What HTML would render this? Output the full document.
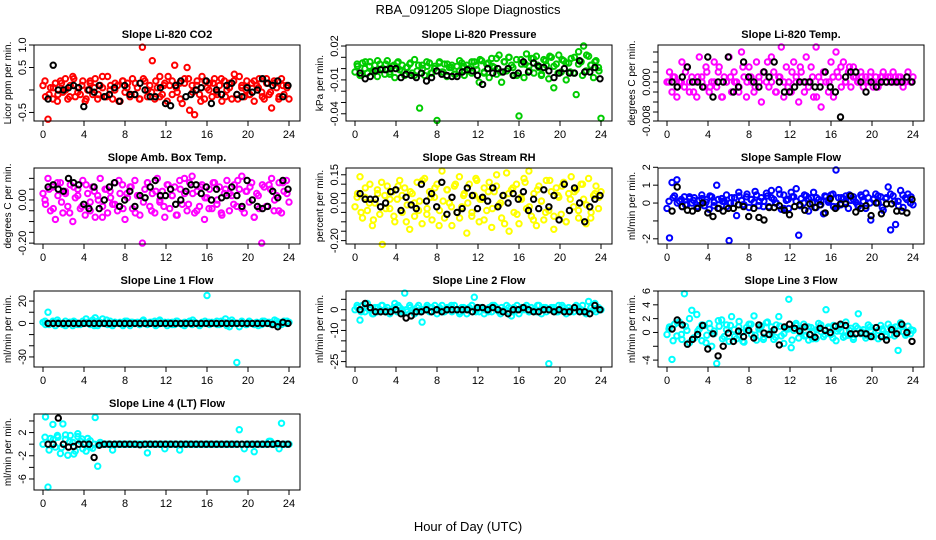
<!DOCTYPE html>
<html><head><meta charset="utf-8"><style>
html,body{margin:0;padding:0;background:#fff;}
svg{display:block;font-family:"Liberation Sans",sans-serif;}
</style></head><body>
<svg id="chart" width="936" height="540" viewBox="0 0 936 540" xmlns="http://www.w3.org/2000/svg">
<rect width="936" height="540" fill="#fff"/>
<text x="468" y="14" text-anchor="middle" font-size="13">RBA_091205  Slope Diagnostics</text>
<text x="468" y="531" text-anchor="middle" font-size="13">Hour of Day (UTC)</text>
</svg>
<script>
const xTicks = [0,4,8,12,16,20,24];
const co2Vals = [0.1,-0.15,-0.65,0.05,-0.2,0.15,-0.1,0.2,-0.05,0.25,-0.2,0.1,0.3,-0.15,0.05,-0.1,0.2,-0.25,0.0,0.15,-0.1,0.25,-0.2,0.1,0.05,-0.15,0.3,0.0,-0.2,0.15,0.1,-0.25,0.2,-0.05,0.15,-0.15,0.25,-0.1,0.05,-0.2,0.95,0.2,-0.15,0.1,0.65,-0.2,0.05,0.3,-0.1,0.15,-0.25,0.1,0.2,0.55,-0.05,0.15,-0.3,0.25,0.5,-0.45,0.1,-0.55,0.2,-0.1,0.3,-0.2,0.05,0.15,-0.15,0.25,-0.05,0.1,-0.25,0.2,0.0,0.15,-0.2,0.35,-0.1,0.3,0.05,-0.15,0.2,-0.1,0.15,-0.25,0.1,0.25,-0.05,-0.2,0.15,-0.1,-0.4,0.2,0.05,-0.15,0.25,-0.1,0.1,-0.2];
const co2Vals2 = [0.2,-0.1,0.05,-0.25,0.15,0.0,-0.15,0.25,-0.05,0.1,-0.2,0.2,0.05,-0.1,0.3,-0.15,0.1,0.0,-0.25,0.2,0.05,-0.1,0.15,-0.2,0.25,0.0,-0.05,0.2,-0.15,0.1,0.3,-0.1,0.05,-0.2,0.15,0.25,-0.05,0.1,-0.25,0.2,0.0,0.15,-0.1,0.25,-0.15,0.05,0.2,-0.2,0.1,0.0,-0.1,0.2,0.05,-0.15,0.25,-0.05,0.15,-0.2,0.1,0.05];
const co2Ref = [-0.2,0.55,0.0,0.0,0.05,0.1,0.05,-0.37,0.0,-0.05,0.1,-0.15,-0.1,0.05,-0.25,0.1,-0.1,-0.1,0.15,0.0,-0.15,-0.15,0.05,-0.3,-0.35,0.1,0.2,-0.15,-0.1,0.0,0.05,0.2,-0.3,0.0,-0.1,0.1,0.15,-0.1,-0.15,0.05,-0.05,0.0,0.25,0.15,0.1,0.2,-0.15,0.1];
const presVals = [-0.003,0.002,-0.006,0.005,0.0,-0.004,0.006,-0.002,0.003,-0.007,0.004,0.0,-0.005,0.007,-0.003,0.002,-0.008,0.005,-0.001,0.003,-0.006,0.001,0.004,-0.004,0.008,-0.002,-0.035,0.003,-0.006,0.002,0.005,-0.004,0.0,-0.046,0.006,-0.003,0.004,-0.007,0.001,0.003,-0.005,0.002,-0.002,0.005,-0.006,0.003,0.0,-0.004,0.006,-0.001,-0.012,0.007,-0.003,0.004,-0.008,0.009,0.001,-0.005,0.012,-0.012,0.006,-0.002,0.01,0.003,-0.006,0.008,-0.042,0.004,-0.008,0.013,0.002,0.009,-0.004,0.011,0.001,-0.006,0.008,0.003,-0.009,0.01,-0.017,0.004,0.012,-0.003,0.007,-0.01,0.005,0.009,-0.004,-0.023,0.015,0.006,0.02,-0.002,0.011,0.003,-0.008,0.007,0.001,-0.044];
const presVals2 = [0.004,-0.006,0.006,0.002,-0.003,0.007,-0.001,0.004,-0.005,0.003,0.006,-0.002,0.001,0.005,-0.006,0.003,0.0,0.006,-0.004,0.002,0.005,-0.003,0.004,0.001,-0.005,0.007,0.002,-0.002,0.006,0.003,0.008,-0.004,0.005,0.002,0.009,-0.003,0.006,0.01,0.001,-0.006,0.008,0.004,-0.002,0.009,0.003,-0.005,0.007,0.011,0.002,-0.004,0.008,0.005,-0.003,0.01,0.004,-0.006,0.012,0.003,0.006,-0.002];
const presRef = [-0.004,-0.009,-0.007,-0.002,-0.001,-0.001,0.0,0.0,-0.008,-0.005,-0.006,-0.008,-0.004,-0.011,-0.008,-0.002,-0.005,-0.006,-0.007,-0.007,-0.003,-0.001,-0.002,-0.006,-0.014,0.0,-0.004,0.0,-0.003,0.0,-0.006,-0.004,0.006,-0.003,0.005,0.002,0.001,-0.002,-0.008,-0.004,0.0,-0.004,-0.004,0.007,-0.003,-0.003,0.001,-0.009];
const ltempVals = [0.0,0.002,-0.002,0.001,-0.003,0.0,0.004,-0.001,0.003,-0.002,0.001,0.0,-0.003,0.005,0.001,-0.001,0.002,-0.002,0.0,0.004,-0.001,0.003,-0.003,0.001,0.0,0.005,-0.002,0.002,0.0,-0.001,0.006,0.001,-0.003,0.003,0.0,-0.002,0.004,0.001,-0.004,0.002,0.0,-0.001,0.005,0.002,-0.002,0.001,0.007,-0.003,0.003,0.0,-0.002,0.004,0.001,-0.004,0.002,0.0,0.005,-0.001,0.003,-0.003,0.007,0.001,-0.005,0.002,0.0,-0.002,0.004,-0.003,0.006,0.001,0.003,0.004,0.0,0.002,-0.001,0.003,0.001,0.0,0.002,-0.001,0.001,0.0,0.002,-0.001,0.001,0.0,0.001,0.002,0.0,0.001,0.0,0.002,0.001,0.0,0.001,-0.001,0.0,0.002,0.0,0.001];
const ltempVals2 = [0.0,0.001,-0.001,0.0,0.002,0.0,-0.002,0.001,0.0,0.003,-0.001,0.0,0.002,-0.003,0.0,0.001,0.0,-0.002,0.003,0.0,0.001,-0.001,0.0,0.002,0.004,0.0,-0.002,0.001,0.0,-0.001,0.002,0.0,0.003,-0.002,0.0,0.001,-0.003,0.0,0.002,0.0,0.001,0.002,-0.001,0.0,0.003,0.001,0.0,0.001,0.0,0.001,0.0,-0.001,0.001,0.0,0.001,0.0,0.001,0.0,0.001,0.0];
const ltempRef = [0.0,-0.001,0.001,0.003,0.0,0.0,-0.001,0.005,-0.003,0.0,0.0,0.005,-0.002,-0.001,0.004,0.001,0.0,-0.001,0.002,0.001,0.004,0.0,-0.002,-0.002,-0.001,0.0,0.0,0.0,-0.001,-0.001,0.002,-0.001,-0.002,-0.007,0.001,0.002,0.002,0.0,-0.002,0.0,-0.001,0.0,0.0,0.0,0.0,0.0,0.001,0.0];
const ambVals = [0.03,-0.02,0.1,-0.05,0.06,-0.09,0.02,0.08,-0.06,0.04,-0.03,0.07,-0.1,0.01,0.05,-0.04,0.09,-0.07,0.03,-0.01,0.06,-0.08,0.02,0.1,-0.03,0.05,-0.06,0.04,-0.02,0.08,-0.05,0.03,0.07,-0.09,0.01,0.06,-0.04,0.09,0.02,-0.07,-0.2,0.05,0.08,-0.03,0.03,-0.06,0.1,-0.01,0.04,-0.08,0.07,-0.04,0.02,0.06,-0.07,0.09,-0.02,0.03,-0.05,0.08,0.11,-0.06,0.04,-0.03,0.07,-0.09,0.01,0.05,-0.04,0.08,-0.02,0.06,-0.07,0.03,0.09,-0.05,0.02,0.07,-0.03,0.05,0.11,-0.06,0.04,-0.01,0.08,-0.08,0.03,-0.04,-0.2,0.06,-0.03,0.07,0.1,-0.05,0.02,0.08,-0.06,0.04,0.09,-0.01];
const ambVals2 = [0.0,0.05,-0.04,0.08,-0.01,0.03,-0.06,0.06,0.02,-0.03,0.07,-0.05,0.04,0.0,-0.08,0.05,0.01,-0.02,0.09,-0.04,0.03,0.06,-0.06,0.02,-0.01,0.08,-0.05,0.04,0.0,-0.03,0.07,0.02,-0.07,0.05,0.1,-0.02,0.03,-0.05,0.06,0.01,-0.04,0.08,0.0,-0.06,0.05,0.03,-0.02,0.09,-0.04,0.04,0.06,-0.08,0.02,0.07,-0.03,0.05,0.0,-0.05,0.08,0.03];
const ambRef = [0.06,0.07,0.05,0.04,0.1,0.08,0.07,-0.02,-0.04,0.06,-0.04,0.0,0.06,0.08,-0.03,0.0,0.04,-0.03,0.02,0.01,0.06,0.09,0.02,0.02,0.05,-0.02,0.0,0.04,0.07,0.07,0.03,0.06,0.0,0.05,0.01,0.02,0.06,0.02,-0.03,0.09,0.0,-0.03,-0.04,-0.03,0.04,0.01,0.09,0.05];
const rhVals = [-0.02,0.05,0.14,-0.08,0.03,-0.04,0.1,-0.12,0.0,0.07,-0.06,-0.22,0.04,0.09,-0.03,0.06,-0.1,0.02,0.12,-0.05,0.08,-0.01,-0.14,0.05,-0.07,0.11,0.01,-0.11,0.13,-0.03,0.06,-0.09,0.03,0.1,-0.04,0.17,-0.08,0.07,0.0,-0.12,0.09,-0.05,0.14,-0.02,0.05,-0.16,0.1,-0.07,0.04,0.12,-0.1,0.02,0.08,-0.04,0.11,-0.13,0.06,0.15,-0.01,-0.08,0.04,0.16,-0.15,0.07,-0.05,0.1,-0.11,0.02,0.13,-0.03,0.17,-0.07,0.05,-0.12,0.09,0.01,-0.09,0.12,-0.04,0.06,-0.14,0.08,0.03,-0.06,0.11,-0.1,0.05,0.14,-0.02,0.07,-0.08,0.1,0.02,-0.11,0.13,-0.05,0.04,0.09,-0.03,0.06];
const rhVals2 = [0.03,-0.05,0.08,0.0,-0.09,0.05,0.11,-0.03,0.02,-0.07,0.09,0.04,-0.1,0.06,0.0,-0.04,0.12,-0.06,0.03,0.08,-0.12,0.01,0.07,-0.02,0.1,-0.08,0.04,0.0,-0.05,0.13,0.02,-0.09,0.06,-0.03,0.09,0.0,-0.11,0.05,0.08,-0.06,0.03,0.11,-0.02,-0.09,0.07,0.01,-0.05,0.12,-0.07,0.04,0.09,-0.1,0.02,0.06,-0.04,0.1,-0.01,-0.08,0.05,0.03];
const rhRef = [0.05,0.02,0.02,0.02,-0.02,0.0,0.06,0.07,-0.04,0.03,-0.01,-0.03,0.1,0.01,0.05,-0.02,0.11,-0.06,0.03,-0.05,-0.03,0.08,0.04,-0.03,0.03,0.01,0.08,-0.02,0.04,0.0,0.05,0.02,0.06,-0.04,0.02,-0.03,0.07,-0.02,0.04,-0.09,0.1,-0.04,0.08,0.0,-0.1,-0.02,0.02,0.04];
const sfVals = [-0.3,-1.95,1.15,0.4,1.3,0.1,-0.2,0.35,-0.1,0.25,0.0,0.3,-0.25,0.15,0.45,-0.15,0.2,-0.35,0.35,0.05,1.0,-0.3,0.25,0.1,-0.2,-2.1,0.3,0.0,-0.7,0.4,0.15,-0.1,0.35,-0.25,0.2,0.05,0.45,-0.15,0.3,0.1,0.55,-0.2,0.7,0.2,0.0,0.75,-0.35,0.45,0.15,-0.3,0.6,0.35,0.8,-1.8,0.25,0.0,0.4,-0.45,0.3,0.6,-0.25,0.2,0.1,-0.6,0.35,0.05,0.45,-0.2,1.85,0.3,-0.1,0.25,0.4,-0.3,0.15,0.35,0.05,-0.2,0.45,0.1,-0.3,0.3,-0.95,0.2,0.5,0.0,0.35,-0.4,0.25,0.9,-1.5,0.4,-1.2,0.1,0.7,-0.25,0.3,0.5,0.0,-0.1];
const sfVals2 = [0.1,0.3,0.0,0.2,-0.1,0.35,0.15,-0.2,0.25,0.05,0.4,-0.15,0.2,0.1,0.45,0.0,0.3,0.6,-0.1,0.5,0.2,0.65,0.1,-0.2,0.4,0.3,0.0,0.5,-0.3,0.2,0.35,0.1,-0.15,0.45,0.25,0.0,0.3,-0.1,0.4,0.15,0.5,-0.2,0.3,0.05,0.45,0.2,-0.1,0.35,0.55,0.0,0.25,0.4,-0.25,0.3,0.5,0.1,-0.15,0.45,0.2,0.35];
const sfRef = [-0.45,0.9,-0.2,-0.4,-0.45,-0.3,0.0,-0.55,-0.75,-0.3,-0.45,-0.3,-0.3,-0.1,-0.2,-0.75,-0.3,-0.8,-0.95,-0.25,-0.25,-0.15,-0.4,-0.65,-0.2,-0.1,-0.4,-0.05,-0.25,-0.1,-0.55,0.25,-0.3,-0.05,-0.05,0.4,-0.5,-0.3,-0.15,-0.7,0.0,-0.6,-0.05,-0.05,-0.45,-0.45,-0.55,0.2];
const l1Vals = [1,-1,10,0,2,-2,1,0,-1,2,0,1,-2,1,0,-1,2,0,1,-1,3,5,-2,1,4,0,-1,2,-2,1,0,1,-1,2,0,-2,1,0,1,-1,2,0,-1,1,0,2,-1,3,0,1,-2,0,1,-1,2,0,-1,1,0,2,-1,1,0,-2,1,0,25,-1,1,0,2,-1,0,1,-2,1,3,0,-35,-3,1,0,-1,2,0,-1,1,0,-1,2,0,1,-1,0,2,1,-1,2,0,1];
const l1Vals2 = [2,-1,1,3,0,-2,1,2,-1,0,4,1,-2,2,0,3,-1,1,0,-2,2,1,0,-1,3,0,1,-2,2,0,1,-1,2,0,-2,1,3,0,-1,2,1,0,-1,2,4,-3,1,0,2,-1,1,0,-2,2,1,0,3,-1,1,2];
const l1Ref = [0,0,0,0,0,0,0,0,0,0,0,0,0,0,0,0,0,0,0,0,0,0,0,0,0,0,0,0,0,0,0,0,0,0,0,0,0,0,0,0,0,0,0,0,-1,-3,1,0];
const l2Vals = [0,1,-5,2,-1,3,0,-2,1,-1,0,2,-1,1,-2,0,3,-1,1,0,8,-1,2,0,-2,1,-1,-6,0,2,-1,1,0,-2,1,2,-1,0,1,-1,2,0,-1,1,0,-2,1,2,6,0,-1,1,-2,0,1,-1,2,0,-1,1,0,2,-1,-3,1,0,-2,1,0,2,-1,1,0,-1,2,0,1,-1,-26,1,0,-1,2,0,1,-2,1,0,-1,2,1,0,-1,-2,4,1,0,-1,1,0];
const l2Vals2 = [2,-1,1,0,-2,1,2,0,-1,1,2,-1,0,1,-2,2,0,1,-1,2,0,-1,1,2,0,-2,1,0,2,-1,1,0,-1,2,1,-2,0,1,-1,2,0,1,-1,0,2,-2,1,0,1,-1,2,0,-1,1,0,2,-1,1,3,0];
const l2Ref = [0,3,1,-1,-1,-1,-1,0,-2,-4,-3,-1,-1,0,-1,0,-1,0,0,0,0,0,-1,1,1,0,1,0,-1,-2,0,0,1,0,-1,-1,0,0,-1,0,-1,-1,1,-1,-1,-2,2,0];
const l3Vals = [-0.3,0.8,-3.9,1.2,-0.5,1.5,-1.0,5.6,0.3,-1.5,3.2,-0.8,2.6,0.5,-1.2,1.0,-0.4,1.3,-2.0,0.2,-4.5,0.9,1.8,-0.6,1.1,-1.3,2.3,0.4,-0.9,1.6,0.0,-1.4,0.7,1.2,-0.3,2.4,-1.1,0.5,0.9,-0.7,1.4,-0.2,0.8,-1.0,1.1,2.3,-0.5,-1.6,0.6,4.8,-2.2,0.3,1.0,-0.8,0.5,1.2,-0.4,-1.1,0.7,0.2,-0.9,1.3,0.1,-0.6,3.3,0.8,-0.3,1.0,-1.2,0.5,0.2,-0.7,1.5,-0.4,0.6,-1.0,0.9,2.7,-0.2,0.4,-0.8,1.1,0.3,-0.5,0.7,-0.9,1.0,0.2,-0.6,1.2,-0.3,0.6,0.8,-2.6,1.4,0.1,-0.4,0.9,-0.2,0.3];
const l3Vals2 = [0.5,-1.2,1.4,-0.3,0.9,2.0,-0.8,0.2,1.1,-1.5,0.6,-0.2,1.7,-0.9,0.4,1.0,-0.6,0.8,-1.3,0.3,1.2,-0.4,0.7,-1.0,1.5,0.1,-0.7,0.9,-0.2,0.5,-1.1,1.3,0.0,-0.5,0.8,-0.9,0.4,1.1,-0.3,0.6,-0.8,0.2,0.9,-0.5,0.3,-0.7,0.6,0.1,-0.4,0.8,-0.6,0.3,0.5,-0.3,0.7,-0.5,0.2,0.9,-0.2,0.4];
const l3Ref = [0.5,1.8,1.1,-1.7,-1.0,-0.3,1.0,-2.4,-0.2,-3.4,-2.0,-0.1,-1.3,0.2,-0.6,0.3,-0.8,1.1,-0.1,-0.3,0.4,-1.8,0.8,1.2,0.6,0.2,0.8,-0.3,-0.7,0.6,0.3,0.0,0.9,1.2,1.0,-0.2,-0.2,-0.1,-0.2,-0.6,0.7,-0.6,-1.1,0.4,-0.2,1.2,0.0,-1.3];
const l4Vals = [0,4.7,-7.4,1.0,3.4,-0.5,1.2,-1.6,3.5,0.8,-1.9,1.5,0.3,-1.2,1.8,0.5,-0.8,0.2,1.0,-0.5,-0.7,4.6,-3.8,0.3,0,0,0,0,-1.0,0,0,0,0,0,0,0,0,0,0,0,0,0,-1.5,0,0,0,0,0,0,-0.8,0,0,0,0,0,-1.0,0,0,0,0,0,0,0,0,0,0,0,0,0,0,0,0,0,0,0,0,0,0,-6.0,2.5,0,-0.8,0,0,0,-1.3,0,0,0,0,0,0.5,0,0,0,-0.8,3.6,0,0,0];
const l4Vals2 = [1.2,-1.0,0.8,1.5,-0.6,1.6,0.4,-1.7,1.3,0.9,-1.2,0.6,0,0,0,0,0,0,0,0,0,0,0,0,0,0,0,0,0,0,0,0,0,0,0,0,0,0,0,0,0,0,0,0,0,0,0,0,0,0,0,0,0,0,0,0.5,0,0,0,0];
const l4Ref = [0,0,4.5,0,-0.5,-0.4,0,0,0,-2.3,-0.2,0,0,0,0,0,0,0,-0.1,0,0,0,0,0,0,0,0,0,0,0,0,0,0,0,0,0,0,0,0,0,0,0,0,0,0,0.1,0,0];

const panels = [
 {key:'co2',title:'Slope Li-820 CO2',ylab:'Licor ppm per min.',c:0,r:0,lo:-0.69,hi:1.0,ticks:[-0.5,0,0.5,1.0],labs:['-0.5','','0.5','1.0'],col:'#ff0000',v:co2Vals,v2:co2Vals2,k:co2Ref},
 {key:'pressure',title:'Slope Li-820 Pressure',ylab:'kPa per min.',c:1,r:0,lo:-0.0464,hi:0.0209,ticks:[-0.04,-0.03,-0.02,-0.01,0,0.01,0.02],labs:['-0.04','','','-0.01','','','0.02'],col:'#00cc00',v:presVals,v2:presVals2,k:presRef},
 {key:'li820-temp',title:'Slope Li-820 Temp.',ylab:'degrees C per min.',c:2,r:0,lo:-0.0078,hi:0.0074,ticks:[-0.006,-0.004,-0.002,0,0.002,0.004,0.006],labs:['','','','0.000','','',''],col:'#ff00ff',v:ltempVals,v2:ltempVals2,k:ltempRef,extra:{val:-0.008,lab:'-0.008'}},
 {key:'amb-box-temp',title:'Slope Amb. Box Temp.',ylab:'degrees C per min.',c:0,r:1,lo:-0.204,hi:0.148,ticks:[-0.2,-0.15,-0.1,-0.05,0,0.05,0.1],labs:['-0.20','','','','0.00','',''],col:'#ff00ff',v:ambVals,v2:ambVals2,k:ambRef},
 {key:'gas-stream-rh',title:'Slope Gas Stream RH',ylab:'percent per min.',c:1,r:1,lo:-0.218,hi:0.186,ticks:[-0.2,-0.15,-0.1,-0.05,0,0.05,0.1,0.15],labs:['-0.20','','','','0.00','','','0.15'],col:'#ffff00',v:rhVals,v2:rhVals2,k:rhRef},
 {key:'sample-flow',title:'Slope Sample Flow',ylab:'ml/min per min.',c:2,r:1,lo:-2.29,hi:1.96,ticks:[-2,-1,0,1,2],labs:['-2','','0','1','2'],col:'#0000ff',v:sfVals,v2:sfVals2,k:sfRef},
 {key:'line1-flow',title:'Slope Line 1 Flow',ylab:'ml/min per min.',c:0,r:2,lo:-39,hi:29,ticks:[-30,-20,-10,0,10,20],labs:['-30','','','0','','20'],col:'#00ffff',v:l1Vals,v2:l1Vals2,k:l1Ref},
 {key:'line2-flow',title:'Slope Line 2 Flow',ylab:'ml/min per min.',c:1,r:2,lo:-27.6,hi:9,ticks:[-25,-20,-15,-10,-5,0,5],labs:['-25','','','-10','','0',''],col:'#00ffff',v:l2Vals,v2:l2Vals2,k:l2Ref},
 {key:'line3-flow',title:'Slope Line 3 Flow',ylab:'ml/min per min.',c:2,r:2,lo:-5,hi:6,ticks:[-4,-2,0,2,4,6],labs:['-4','','0','2','4','6'],col:'#00ffff',v:l3Vals,v2:l3Vals2,k:l3Ref},
 {key:'line4-flow',title:'Slope Line 4 (LT) Flow',ylab:'ml/min per min.',c:0,r:3,lo:-7.9,hi:5.2,ticks:[-6,-4,-2,0,2,4],labs:['-6','','-2','','2',''],col:'#00ffff',v:l4Vals,v2:l4Vals2,k:l4Ref}
];
const NS='http://www.w3.org/2000/svg';
const svg=document.getElementById('chart');
function mk(tag,attrs,parent){const e=document.createElementNS(NS,tag);for(const a in attrs)e.setAttribute(a,attrs[a]);(parent||svg).appendChild(e);return e;}
panels.forEach(p=>{
  const L=34+312*p.c, R=L+266, T=45+123*p.r, B=T+76;
  const xs=h=>43+312*p.c+h*(246/24);
  const ys=v=>B-(v-p.lo)/(p.hi-p.lo)*(B-T);
  const g=mk('g',{});
  
  
  const t=mk('text',{x:(L+R)/2,y:T-7,'text-anchor':'middle','font-size':'11','font-weight':'bold'},g);
  t.textContent=p.title;
  
  
  const yl=mk('text',{x:0,y:0,'text-anchor':'middle','font-size':'10',transform:`translate(${L-23},${(T+B)/2}) rotate(-90)`},g);
  yl.textContent=p.ylab;
  
  
  const pts=mk('g',{fill:'none','stroke-width':'2'},g);
  
  
  p.v.forEach((v,i)=>{
    const h=i*24/(p.v.length-1);
    const c=mk('circle',{cx:xs(h).toFixed(1),cy:ys(v).toFixed(1),r:'2.7',stroke:p.col},pts);
    
    
  });
  p.v2.forEach((v,i)=>{
    const h=(i+0.5)*24/p.v2.length;
    const c=mk('circle',{cx:xs(h).toFixed(1),cy:ys(v).toFixed(1),r:'2.7',stroke:p.col},pts);
    
    
  });
  p.k.forEach((v,i)=>{
    const h=0.5+i*23.4/(p.k.length-1);
    const c=mk('circle',{cx:xs(h).toFixed(1),cy:ys(v).toFixed(1),r:'2.7',stroke:'#000'},pts);
    
    
  });
  const box=mk('rect',{x:L,y:T,width:R-L,height:B-T,fill:'none',stroke:'#000','stroke-width':'1'},g);
  
  
  const xa=mk('g',{'font-size':'11'},g);
  
  
  xTicks.forEach(h=>{
    mk('line',{x1:xs(h),x2:xs(h),y1:B,y2:B+5,stroke:'#000'},xa);
    const tl=mk('text',{x:xs(h),y:B+17,'text-anchor':'middle'},xa);
    tl.textContent=h;
  });
  const ya=mk('g',{'font-size':'11'},g);
  
  
  const allT=p.ticks.map((v,i)=>[v,p.labs[i]]);
  if(p.extra) allT.push([p.extra.val,p.extra.lab]);
  allT.forEach(([v,lab])=>{
    const y=Math.min(ys(v),B);
    mk('line',{x1:L-5,x2:L,y1:y,y2:y,stroke:'#000'},ya);
    if(lab){const tl=mk('text',{x:0,y:0,'text-anchor':'middle',transform:`translate(${L-8},${y}) rotate(-90)`},ya);tl.textContent=lab;}
  });
});
</script>
</body></html>
